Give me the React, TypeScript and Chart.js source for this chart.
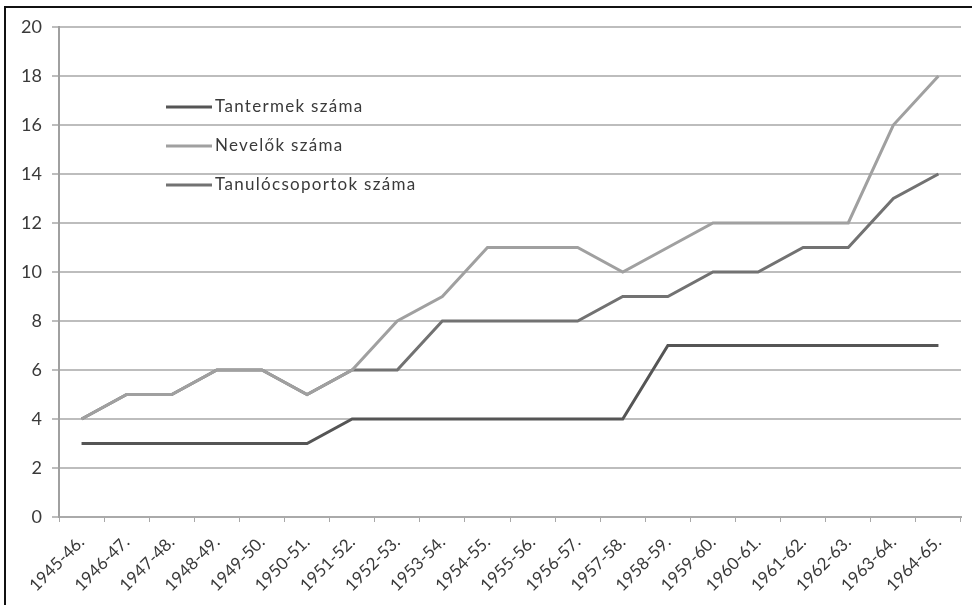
import React, { useEffect, useRef } from "react";
import { Chart, registerables } from "chart.js";

Chart.register(...registerables);

const categories = [
  "1945-46.", "1946-47.", "1947-48.", "1948-49.", "1949-50.",
  "1950-51.", "1951-52.", "1952-53.", "1953-54.", "1954-55.",
  "1955-56.", "1956-57.", "1957-58.", "1958-59.", "1959-60.",
  "1960-61.", "1961-62.", "1962-63.", "1963-64.", "1964-65.",
];

const tantermek = [3, 3, 3, 3, 3, 3, 4, 4, 4, 4, 4, 4, 4, 7, 7, 7, 7, 7, 7, 7];
const nevelok = [4, 5, 5, 6, 6, 5, 6, 8, 9, 11, 11, 11, 10, 11, 12, 12, 12, 12, 16, 18];
const tanulocsoportok = [4, 5, 5, 6, 6, 5, 6, 6, 8, 8, 8, 8, 9, 9, 10, 10, 11, 11, 13, 14];

const seriesNames = ["Tantermek száma", "Nevelők száma", "Tanulócsoportok száma"];
const seriesColors = ["#555555", "#a0a0a0", "#727272"];

const FONT = "Lato, 'Open Sans', sans-serif";

const legendPlugin = {
  id: "insideLegend",
  afterDraw(chart: any) {
    const { ctx, chartArea } = chart;
    ctx.save();
    const x0 = chartArea.left + 107;
    const y0 = chartArea.top + 80;
    chart.data.datasets.forEach((ds: any, i: number) => {
      const y = y0 + i * 39;
      ctx.strokeStyle = ds.borderColor;
      ctx.lineWidth = 3;
      ctx.beginPath();
      ctx.moveTo(x0, y);
      ctx.lineTo(x0 + 46, y);
      ctx.stroke();
      ctx.fillStyle = "#3a3a3a";
      ctx.font = `17px ${FONT}`;
      (ctx as any).letterSpacing = "1.3px";
      ctx.textBaseline = "middle";
      ctx.textAlign = "left";
      ctx.fillText(ds.label, x0 + 49, y);
    });
    ctx.restore();
  },
};

export default function App() {
  const ref = useRef<HTMLCanvasElement | null>(null);

  useEffect(() => {
    if (!ref.current) return;
    const data = [tantermek, nevelok, tanulocsoportok];
    const chart = new Chart(ref.current, {
      type: "line",
      data: {
        labels: categories,
        datasets: data.map((d, i) => ({
          label: seriesNames[i],
          data: d,
          borderColor: seriesColors[i],
          backgroundColor: seriesColors[i],
          borderWidth: 3,
          pointRadius: 0,
          tension: 0,
          fill: false,
        })),
      },
      options: {
        animation: false,
        responsive: false,
        devicePixelRatio: 1,
        layout: { padding: { left: 0, right: 11, top: 27, bottom: 0 } },
        plugins: {
          legend: { display: false },
          tooltip: { enabled: false },
        },
        scales: {
          x: {
            type: "category",
            offset: true,
            grid: {
              display: true,
              drawOnChartArea: false,
              drawTicks: true,
              tickLength: 5,
              offset: true,
              color: "#a8a8a8",
              lineWidth: 1,
            },
            border: { display: true, color: "#aaaaaa", width: 2 },
            ticks: {
              autoSkip: false,
              maxRotation: 45,
              minRotation: 45,
              padding: 10,
              color: "#3a3a3a",
              font: { family: FONT, size: 17 },
            },
            afterFit(scale: any) {
              scale.height = 88;
            },
          },
          y: {
            min: 0,
            max: 20,
            ticks: {
              stepSize: 2,
              padding: 10,
              color: "#3a3a3a",
              font: { family: FONT, size: 18 },
            },
            grid: {
              color: "#bdbdbd",
              lineWidth: 2,
              tickLength: 7,
            },
            border: { display: true, color: "#a0a0a0", width: 2 },
            afterFit(scale: any) {
              scale.width = 59;
            },
          },
        },
      },
      plugins: [legendPlugin],
    });
    return () => chart.destroy();
  }, []);

  return (
    <div style={{ position: "absolute", left: 0, top: 0, width: 972, height: 605, background: "#fff", overflow: "hidden" }}>
      <canvas ref={ref} width={972} height={605} style={{ position: "absolute", left: 0, top: 0 }} />
      <div
        style={{
          position: "absolute",
          left: 4,
          top: 6,
          right: 0,
          bottom: -10,
          borderTop: "2px solid #111",
          borderLeft: "2px solid #111",
          pointerEvents: "none",
        }}
      />
    </div>
  );
}
